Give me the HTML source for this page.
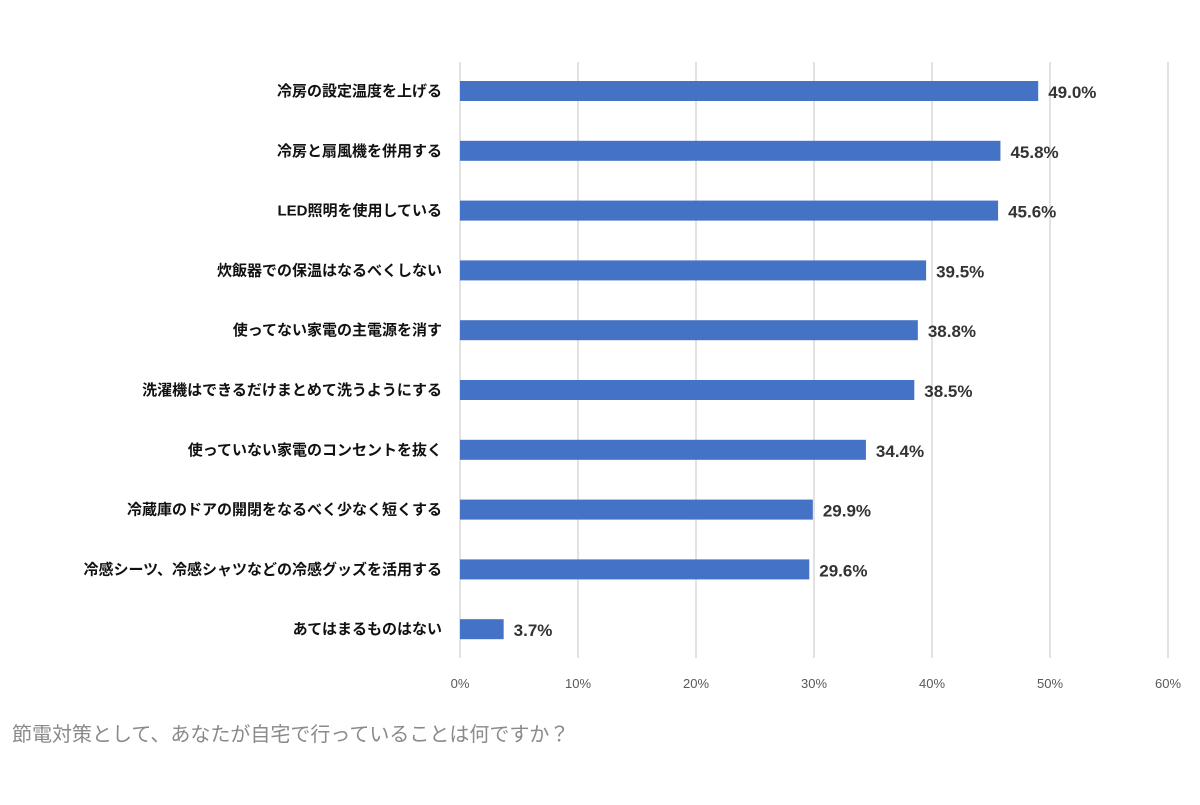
<!DOCTYPE html>
<html><head><meta charset="utf-8"><style>
body{margin:0;background:#fff;}
svg text{font-family:"Liberation Sans","Noto Sans CJK JP",sans-serif;}
</style></head><body>
<svg width="1200" height="800" xmlns="http://www.w3.org/2000/svg">
<g id="grid"></g><g id="bars"></g>
<text x="12" y="741" font-size="20" fill="#8a8a8a">節電対策として、あなたが自宅で行っていることは何ですか？</text>
</svg>
<script>
const categories=["冷房の設定温度を上げる","冷房と扇風機を併用する","LED照明を使用している","炊飯器での保温はなるべくしない","使ってない家電の主電源を消す","洗濯機はできるだけまとめて洗うようにする","使っていない家電のコンセントを抜く","冷蔵庫のドアの開閉をなるべく少なく短くする","冷感シーツ、冷感シャツなどの冷感グッズを活用する","あてはまるものはない"];
const values=[49.0,45.8,45.6,39.5,38.8,38.5,34.4,29.9,29.6,3.7];
const ticks=[0,10,20,30,40,50,60];
const NS="http://www.w3.org/2000/svg";
const x=v=>460+v*11.8;
const y=i=>91+i*59.8;
function mk(t,a,p){const e=document.createElementNS(NS,t);for(const k in a)e.setAttribute(k,a[k]);p.appendChild(e);return e;}
const g=document.getElementById('grid'),b=document.getElementById('bars');
ticks.forEach(t=>{
 const l=mk('line',{x1:x(t),x2:x(t),y1:62,y2:658,stroke:'#d9d9d9','stroke-width':1.5},g);
 
 
 const tx=mk('text',{x:x(t),y:688,'font-size':13,fill:'#595959','text-anchor':'middle'},g);
 tx.textContent=t+'%';
 
 
});
categories.forEach((c,i)=>{
 const cy=y(i);
 const r=mk('rect',{x:x(0),y:cy-10,width:x(values[i])-x(0),height:20,fill:'#4472C4'},b);
 
 
 const lb=mk('text',{x:442,y:cy+5,'font-size':15,'font-weight':'bold',fill:'#111','text-anchor':'end'},b);
 lb.textContent=c;
 
 
 const vl=mk('text',{x:x(values[i])+10,y:cy+7,'font-size':17,'font-weight':'bold',fill:'#333'},b);
 vl.textContent=values[i].toFixed(1)+'%';
 
 
});
</script>
</body></html>
